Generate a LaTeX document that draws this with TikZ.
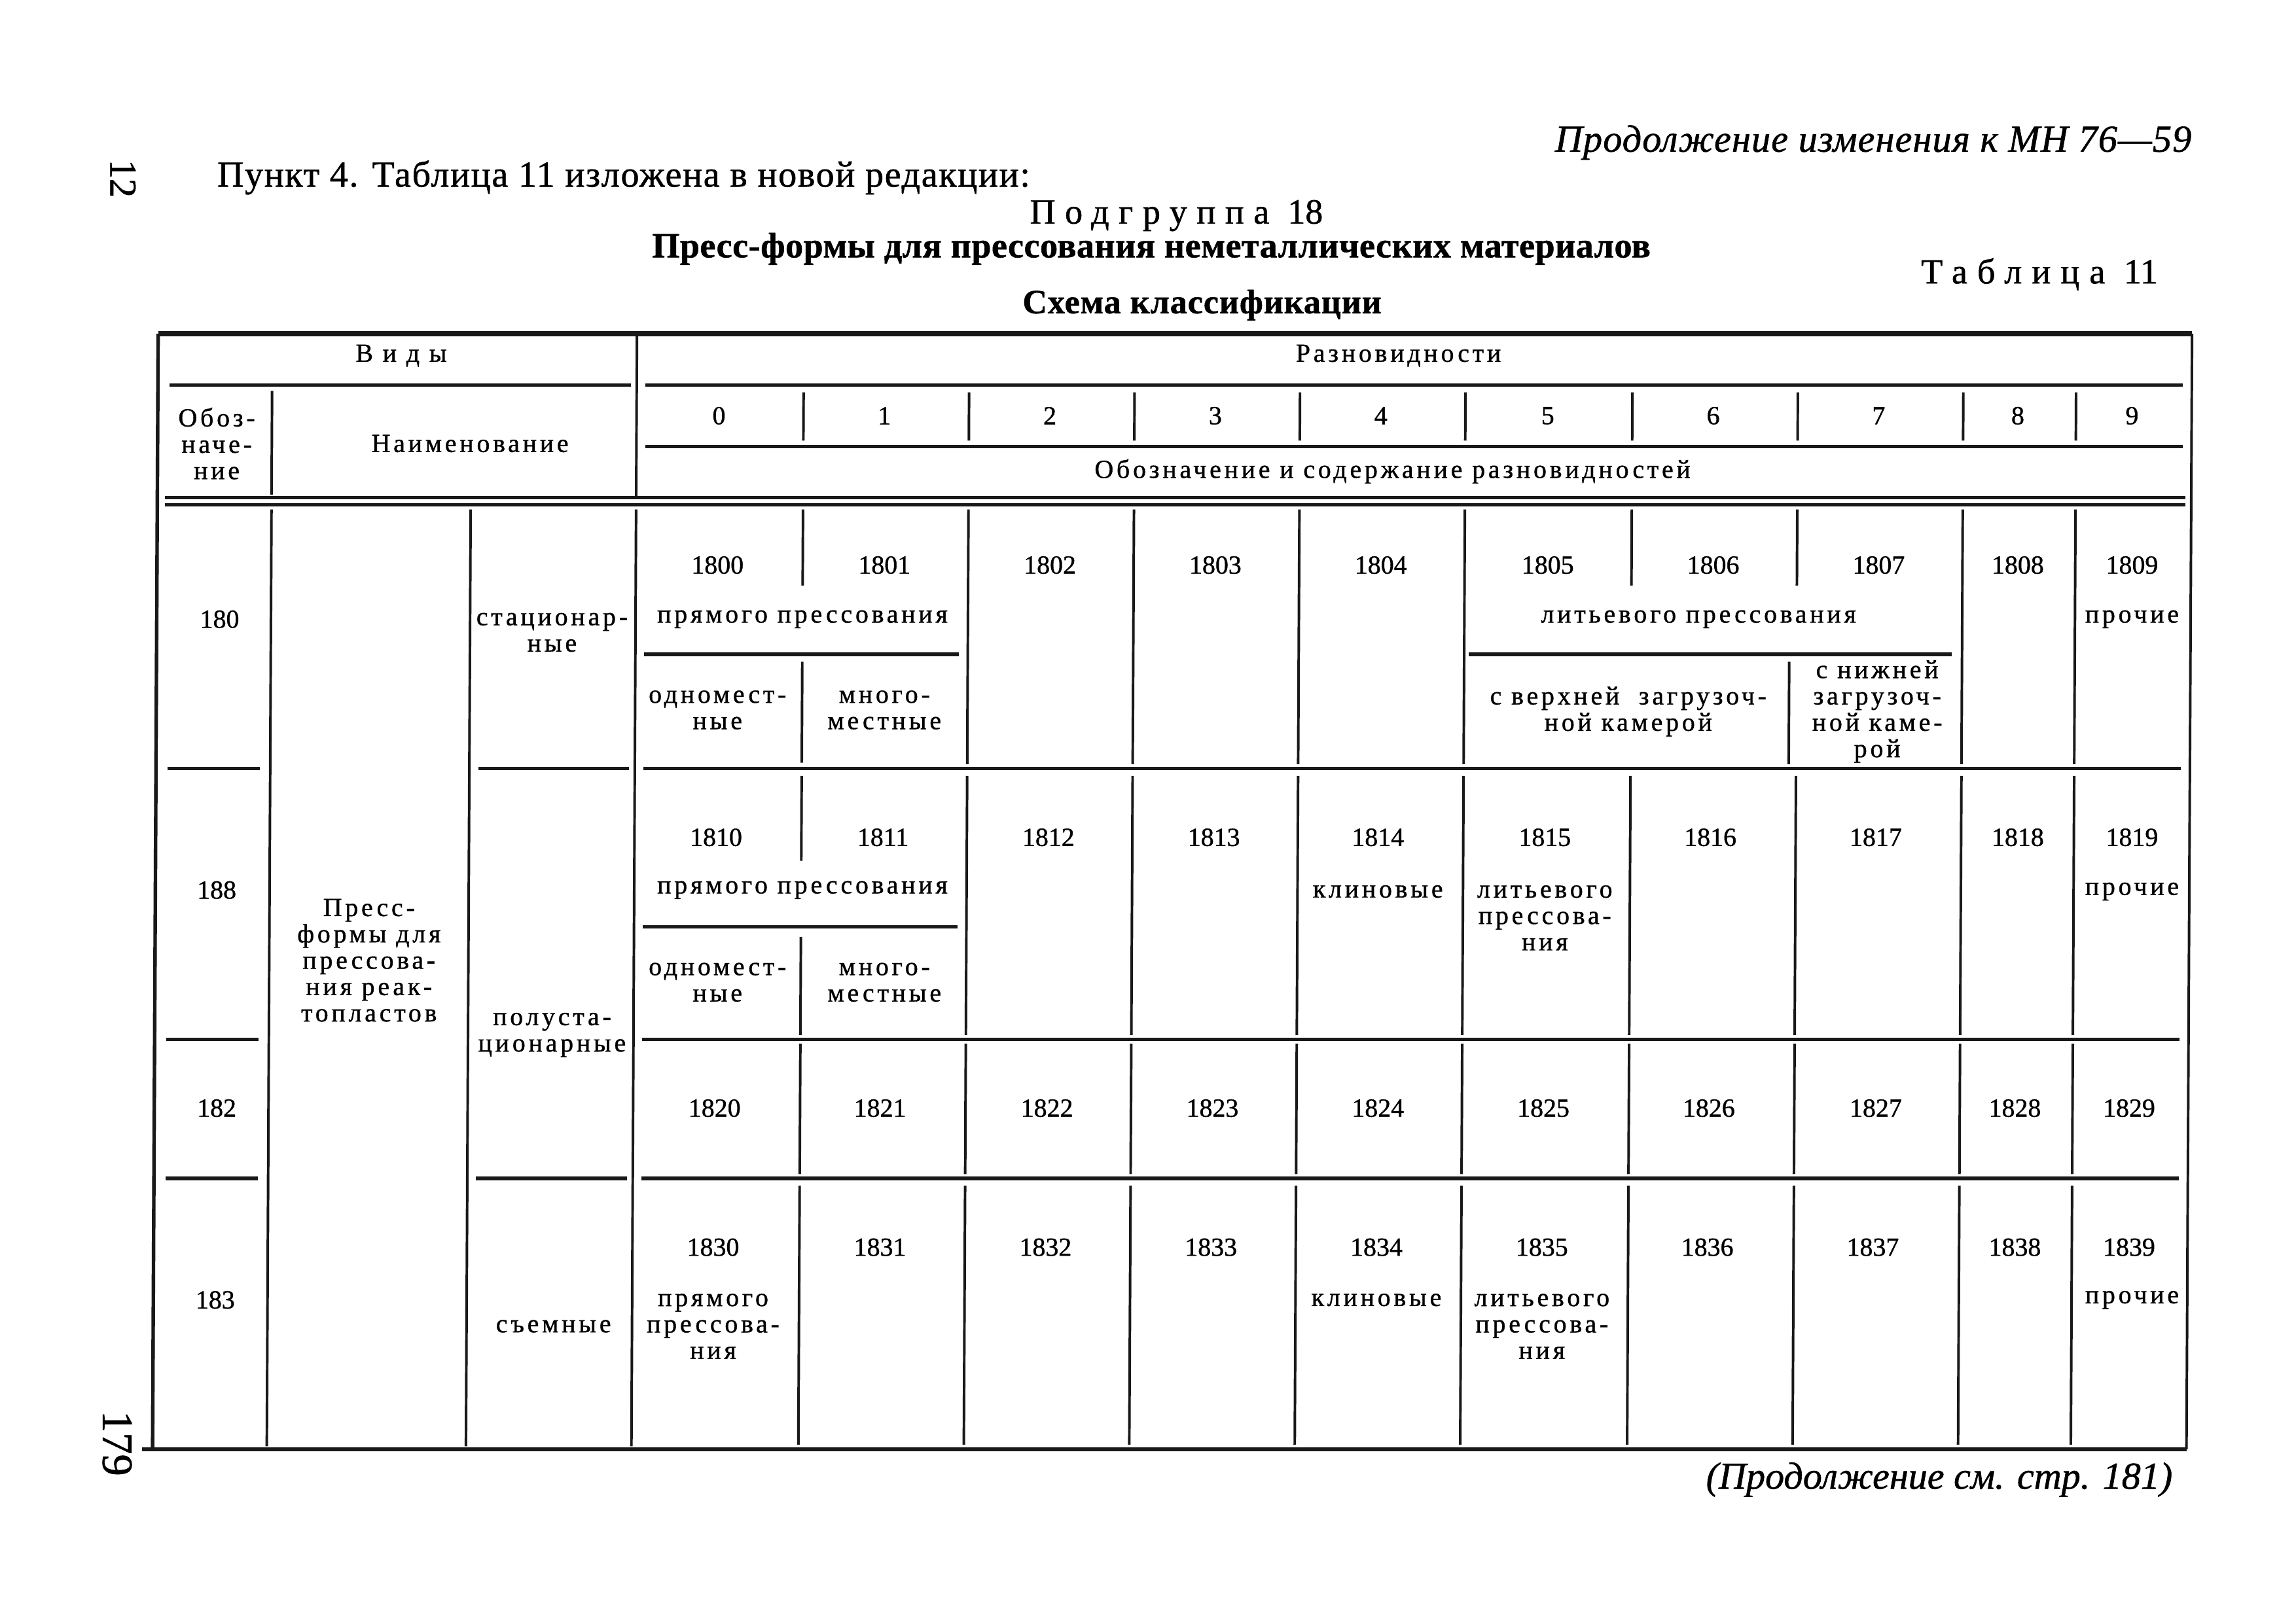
\documentclass[tikz,border=0pt]{standalone}
\usepackage{fontspec}
\setmainfont{Liberation Serif}[FakeBold=1.0]
\newfontfamily\wf{Liberation Serif}[LetterSpace=12,FakeBold=1.0]
\tikzset{
  num/.style={inner sep=0pt, font=\fontsize{9.6}{9.7}\selectfont},
  wrd/.style={inner sep=0pt, align=center, font=\wf\fontsize{9.6}{9.7}\selectfont},
  rl/.style={line width=0.95pt, black!90},
  hr/.style={line width=1.25pt, black!90},
  toprule/.style={line width=1.8pt, black!90},
  border/.style={line width=1.3pt, black!90},
}
\begin{document}
\begin{tikzpicture}[x=0.018941cm, y=-0.018941cm]
\fill[white] (0,0) rectangle (1568,1109);
\useasboundingbox (0,0) rectangle (1568,1109);

% ---------- page texts ----------
\node[inner sep=0pt, rotate=-90, font=\fontsize{14}{14}\selectfont] (pg12) at (84,122) {12};
\node[inner sep=0pt, rotate=-90, font=\fontsize{16}{16}\selectfont] (pg179) at (80,986) {179};
\node[inner sep=0pt, anchor=base east, font=\itshape\fontsize{14}{16}\selectfont\addfontfeature{LetterSpace=2}] (cont) at (1497,103.6) {Продолжение изменения к МН 76—59};
\node[inner sep=0pt, anchor=base west, font=\fontsize{13.5}{16}\selectfont\addfontfeature{LetterSpace=3}] (punkt) at (148,127.5) {Пункт 4. Таблица 11 изложена в новой редакции:};
\node[inner sep=0pt, anchor=base west, font=\fontsize{13}{16}\selectfont] (podgr) at (703,152.7) {{\addfontfeature{LetterSpace=27}Подгруппа }18};
\node[inner sep=0pt, anchor=base west, font=\bfseries\fontsize{13}{16}\selectfont\addfontfeature{LetterSpace=1}] (title) at (445,175.8) {Пресс-формы для прессования неметаллических материалов};
\node[inner sep=0pt, anchor=base east, font=\fontsize{13}{16}\selectfont] (tabl) at (1474,193.6) {{\addfontfeature{LetterSpace=28}Таблица }11};
\node[inner sep=0pt, anchor=base west, font=\bfseries\fontsize{12.5}{15}\selectfont\addfontfeature{LetterSpace=2}] (schema) at (698,214) {Схема классификации};
\node[inner sep=0pt, anchor=base east, font=\itshape\fontsize{14}{16}\selectfont] (further) at (1484,1017) {(Продолжение см. стр. 181)};

% ---------- rules ----------
\begin{scope}[xshift=0.0407cm, xslant=0.005]
  \draw[toprule] (107,228) -- (1496,228);
  \draw[border] (107,228) -- (107,990);
  \draw[rl] (1496,228) -- (1496,990);
  \draw[hr] (100,990) -- (1496,990);
  % header
  \draw[rl] (434,228) -- (434,340);
  \draw[hr] (115,263) -- (430,263);
  \draw[hr] (440,263) -- (1490,263);
  \draw[rl] (185,267) -- (185,338);
  \foreach \x in {548,661,774,887,1000,1114,1227,1340,1417}
    \draw[rl] (\x,268) -- (\x,301);
  \draw[hr] (440,305) -- (1490,305);
  \draw[hr] (112,340) -- (1492,340);
  \draw[hr] (112,345) -- (1492,345);
  % body long verticals
  \foreach \x in {185,321,434}
    \draw[rl] (\x,348) -- (\x,988);
  % row separators
  \foreach \y in {525,710,805} {
    \draw[hr] (115,\y) -- (178,\y);
    \draw[hr] (440,\y) -- (1490,\y);
  }
  \draw[hr] (327,525) -- (430,525);
  \draw[hr] (327,805) -- (430,805);
  % row 180
  \draw[rl] (548,348) -- (548,400);
  \draw[rl] (548,452) -- (548,521);
  \foreach \x in {661,774,887,1000,1340,1417}
    \draw[rl] (\x,348) -- (\x,522);
  \draw[rl] (1114,348) -- (1114,400);
  \draw[rl] (1227,348) -- (1227,400);
  \draw[rl] (1222,452) -- (1222,522);
  \draw[hr] (440,447) -- (655,447);
  \draw[hr] (1003,447) -- (1333,447);
  % row 188
  \draw[rl] (548,530) -- (548,588);
  \draw[rl] (548,640) -- (548,707);
  \foreach \x in {661,774,887,1000,1114,1227,1340,1417}
    \draw[rl] (\x,530) -- (\x,707);
  \draw[hr] (440,633) -- (655,633);
  % row 182
  \foreach \x in {548,661,774,887,1000,1114,1227,1340,1417}
    \draw[rl] (\x,713) -- (\x,802);
  % row 183
  \foreach \x in {548,661,774,887,1000,1114,1227,1340,1417}
    \draw[rl] (\x,810) -- (\x,987);
\end{scope}

% ---------- header texts ----------
\node[wrd] (vidy) at (274,243) {В\ и\ д\ ы};
\node[wrd] (razn) at (955,243) {Разновидности};
\node[wrd] (oboz) at (148,303) {Обоз-\\наче-\\ние};
\node[wrd] (naim) at (321,303) {Наименование};
\foreach \x [count=\i from 0] in {491,604,717,830,943,1057,1170,1283,1378,1456}
  \node[num] (d\i) at (\x,284) {\i};
\node[wrd] (obsod) at (951,322) {Обозначение и содержание разновидностей};

% ---------- row 180 ----------
\node[num] (k180) at (150,423) {180};
\node[wrd] (stac) at (377,432) {стационар-\\ные};
\foreach \x/\t in {490/1800,604/1801,717/1802,830/1803,943/1804,1057/1805,1170/1806,1283/1807,1378/1808,1456/1809}
  \node[num] (c\t) at (\x,386) {\t};
\node[wrd] (pr0) at (548,423) {прямого прессования};
\node[wrd] (od0) at (490,485) {одномест-\\ные};
\node[wrd] (mn0) at (604,485) {много-\\местные};
\node[wrd] (lit0) at (1160,423) {литьевого прессования};
\node[wrd] (verh) at (1112,486) {с верхней\ \ загрузоч-\\ной камерой};
\node[wrd] (nizh) at (1282,486) {с нижней\\загрузоч-\\ной каме-\\рой};
\node[wrd] (pro0) at (1456,423) {прочие};

% ---------- row 188 ----------
\node[num] (k188) at (148,608) {188};
\node[wrd] (press) at (252,656) {Пресс-\\формы для\\прессова-\\ния реак-\\топластов};
\foreach \x/\t in {489/1810,603/1811,716/1812,829/1813,941/1814,1055/1815,1168/1816,1281/1817,1378/1818,1456/1819}
  \node[num] (c\t) at (\x,572) {\t};
\node[wrd] (pr1) at (548,608) {прямого прессования};
\node[wrd] (od1) at (490,671) {одномест-\\ные};
\node[wrd] (mn1) at (604,671) {много-\\местные};
\node[wrd] (kl1) at (941,609) {клиновые};
\node[wrd] (lit1) at (1055,627) {литьевого\\прессова-\\ния};
\node[wrd] (pro1) at (1456,609) {прочие};
\node[wrd] (polu) at (377,707) {полуста-\\ционарные};

% ---------- row 182 ----------
\node[num] (k182) at (148,757) {182};
\foreach \x/\t in {488/1820,601/1821,715/1822,828/1823,941/1824,1054/1825,1167/1826,1281/1827,1376/1828,1454/1829}
  \node[num] (c\t) at (\x,757) {\t};

% ---------- row 183 ----------
\node[num] (k183) at (147,888) {183};
\node[wrd] (sem) at (378,906) {съемные};
\foreach \x/\t in {487/1830,601/1831,714/1832,827/1833,940/1834,1053/1835,1166/1836,1279/1837,1376/1838,1454/1839}
  \node[num] (c\t) at (\x,852) {\t};
\node[wrd] (pr3) at (487,906) {прямого\\прессова-\\ния};
\node[wrd] (kl3) at (940,888) {клиновые};
\node[wrd] (lit3) at (1053,906) {литьевого\\прессова-\\ния};
\node[wrd] (pro3) at (1456,888) {прочие};
\end{tikzpicture}
\end{document}
